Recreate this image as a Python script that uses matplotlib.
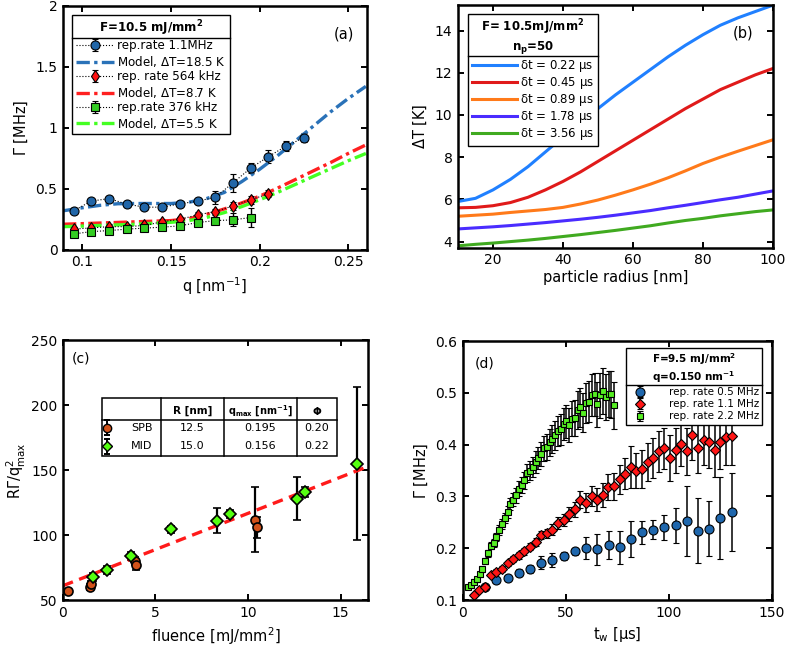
import numpy as np
import matplotlib
matplotlib.use('Agg')
import matplotlib.pyplot as plt
from matplotlib.lines import Line2D
from matplotlib.patches import Rectangle
from matplotlib.ticker import FuncFormatter

# ---------------- panel (a) data ----------------
q_blue = [0.095, 0.105, 0.115, 0.125, 0.135, 0.145, 0.155, 0.165, 0.175, 0.185, 0.195, 0.205, 0.215, 0.225]
gam_blue = [0.32, 0.40, 0.42, 0.375, 0.35, 0.35, 0.377, 0.40, 0.43, 0.55, 0.67, 0.765, 0.85, 0.92]
err_blue = [0.02, 0.02, 0.02, 0.02, 0.02, 0.02, 0.02, 0.02, 0.05, 0.075, 0.04, 0.05, 0.04, 0.04]
q_red = [0.095, 0.105, 0.115, 0.125, 0.135, 0.145, 0.155, 0.165, 0.175, 0.185, 0.195, 0.205]
gam_red = [0.17, 0.18, 0.19, 0.19, 0.20, 0.23, 0.25, 0.287, 0.314, 0.36, 0.41, 0.46]
err_red = [0.02, 0.02, 0.02, 0.02, 0.02, 0.02, 0.02, 0.02, 0.025, 0.03, 0.03, 0.03]
q_green = [0.095, 0.105, 0.115, 0.125, 0.135, 0.145, 0.155, 0.165, 0.175, 0.185, 0.195]
gam_green = [0.13, 0.15, 0.158, 0.17, 0.178, 0.186, 0.197, 0.224, 0.24, 0.246, 0.265]
err_green = [0.025, 0.02, 0.02, 0.02, 0.02, 0.02, 0.02, 0.02, 0.02, 0.053, 0.078]
q_model = [0.089, 0.10, 0.11, 0.12, 0.13, 0.14, 0.15, 0.16, 0.17, 0.18, 0.19, 0.20, 0.21, 0.22, 0.23, 0.24, 0.25, 0.26]
model_blue = [0.32, 0.345, 0.365, 0.378, 0.38, 0.38, 0.38, 0.39, 0.42, 0.47, 0.56, 0.66, 0.77, 0.89, 1.01, 1.13, 1.24, 1.34]
model_red = [0.21, 0.215, 0.22, 0.225, 0.23, 0.235, 0.24, 0.255, 0.29, 0.335, 0.385, 0.44, 0.505, 0.575, 0.645, 0.715, 0.79, 0.86]
model_green = [0.19, 0.195, 0.20, 0.205, 0.21, 0.218, 0.226, 0.24, 0.265, 0.305, 0.355, 0.41, 0.47, 0.535, 0.60, 0.665, 0.73, 0.79]
labels_a = ['rep.rate 1.1MHz', r'Model, $\Delta$T=18.5 K', 'rep. rate 564 kHz',
            r'Model, $\Delta$T=8.7 K', 'rep.rate 376 kHz', r'Model, $\Delta$T=5.5 K']

# ---------------- panel (b) data ----------------
radius = [10, 15, 20, 25, 30, 35, 40, 45, 50, 55, 60, 65, 70, 75, 80, 85, 90, 95, 100]
dT_022 = [5.9, 6.05, 6.45, 6.95, 7.55, 8.25, 8.95, 9.65, 10.3, 10.95, 11.55, 12.15, 12.75, 13.3, 13.8, 14.25, 14.6, 14.9, 15.2]
dT_045 = [5.6, 5.62, 5.7, 5.85, 6.1, 6.45, 6.85, 7.3, 7.8, 8.3, 8.8, 9.3, 9.8, 10.3, 10.75, 11.2, 11.55, 11.9, 12.2]
dT_089 = [5.2, 5.25, 5.3, 5.38, 5.45, 5.52, 5.62, 5.78, 5.97, 6.2, 6.45, 6.72, 7.02, 7.35, 7.7, 8.0, 8.28, 8.55, 8.82]
dT_178 = [4.6, 4.65, 4.7, 4.76, 4.83, 4.9, 4.98, 5.06, 5.15, 5.25, 5.36, 5.47, 5.6, 5.72, 5.85, 5.98, 6.1, 6.25, 6.4]
dT_356 = [3.8, 3.87, 3.93, 4.0, 4.07, 4.15, 4.24, 4.33, 4.43, 4.53, 4.64, 4.75, 4.88, 5.0, 5.1, 5.22, 5.32, 5.42, 5.5]
dt_labels = ['0.22', '0.45', '0.89', '1.78', '3.56']

# ---------------- panel (c) data ----------------
fl_spb = [0.25, 1.45, 1.5, 3.9, 3.95, 10.35, 10.5]
rg_spb = [57, 60, 62, 80, 77, 112, 106]
er_spb = [1.5, 2, 3, 3, 4, 25, 8]
fl_mid = [1.6, 2.4, 3.66, 5.84, 8.3, 9.05, 12.65, 13.1, 15.9]
rg_mid = [67.5, 73, 84, 104.5, 111, 116.5, 128, 133, 155]
er_mid = [3, 3, 3, 2.5, 9.5, 3, 16.5, 4, 59]
fit_x = [0, 16.5]
fit_y = [61, 153]
tab_names = ['SPB', 'MID']
tab_R = ['12.5', '15.0']
tab_q = ['0.195', '0.156']
tab_phi = ['0.20', '0.22']

# ---------------- panel (d) data ----------------
t_05 = [10.9, 16.3, 21.7, 27.2, 32.6, 38.0, 43.5, 48.9, 54.4, 59.8, 65.2, 70.7, 76.1, 81.5,
        87.0, 92.4, 97.8, 103.3, 108.7, 114.1, 119.6, 125.0, 130.4]
g_05 = [0.125, 0.138, 0.143, 0.153, 0.160, 0.172, 0.177, 0.185, 0.194, 0.201, 0.198, 0.207, 0.202, 0.218,
        0.231, 0.236, 0.240, 0.244, 0.253, 0.234, 0.238, 0.258, 0.270]
e_05 = [0.004, 0.005, 0.006, 0.007, 0.008, 0.012, 0.013, 0.008, 0.007, 0.021, 0.03, 0.027, 0.032, 0.035,
        0.022, 0.019, 0.025, 0.033, 0.068, 0.063, 0.053, 0.079, 0.075]
t_11 = [5.4, 8.1, 10.8, 13.6, 16.3, 19.0, 21.7, 24.5, 27.2, 29.9, 32.6, 35.3, 38.0, 40.8, 43.5, 46.2,
        48.9, 51.6, 54.3, 57.1, 59.8, 62.5, 65.2, 67.9, 70.6, 73.4, 76.1, 78.8, 81.5, 84.2, 86.9, 89.6,
        92.4, 95.1, 97.8, 100.5, 103.2, 105.9, 108.6, 111.4, 114.1, 116.8, 119.5, 122.2, 124.9, 127.6, 130.4]
g_11 = [0.109, 0.119, 0.125, 0.148, 0.155, 0.160, 0.171, 0.179, 0.186, 0.194, 0.203, 0.212, 0.225, 0.229,
        0.236, 0.249, 0.255, 0.266, 0.275, 0.294, 0.288, 0.301, 0.294, 0.303, 0.318, 0.320, 0.333, 0.344,
        0.357, 0.350, 0.353, 0.366, 0.374, 0.387, 0.393, 0.374, 0.389, 0.402, 0.387, 0.418, 0.394, 0.409,
        0.405, 0.389, 0.405, 0.414, 0.416]
e_11 = [0.003, 0.003, 0.004, 0.004, 0.004, 0.005, 0.005, 0.006, 0.006, 0.007, 0.007, 0.008, 0.008, 0.009,
        0.010, 0.011, 0.012, 0.013, 0.015, 0.017, 0.018, 0.020, 0.022, 0.023, 0.025, 0.026, 0.028, 0.030,
        0.041, 0.034, 0.036, 0.037, 0.038, 0.040, 0.040, 0.045, 0.043, 0.044, 0.046, 0.047, 0.048, 0.049,
        0.050, 0.052, 0.053, 0.054, 0.055]
t_22 = [2.7, 4.1, 5.4, 6.8, 8.2, 9.5, 10.9, 12.2, 13.6, 15.0, 16.3, 17.7, 19.0, 20.4, 21.8, 23.1, 24.5,
        25.8, 27.2, 28.6, 29.9, 31.3, 32.6, 34.0, 35.4, 36.7, 38.1, 39.4, 40.8, 42.2, 43.5, 44.9, 46.2,
        47.6, 49.0, 50.3, 51.7, 53.0, 54.4, 55.8, 57.1, 58.5, 59.8, 61.2, 62.6, 63.9, 65.3, 66.6, 68.0,
        69.4, 70.7, 72.1, 73.4]
g_22 = [0.125, 0.128, 0.135, 0.140, 0.150, 0.160, 0.175, 0.190, 0.205, 0.210, 0.222, 0.235, 0.247, 0.258,
        0.270, 0.285, 0.294, 0.302, 0.315, 0.322, 0.331, 0.345, 0.350, 0.357, 0.366, 0.374, 0.382, 0.393,
        0.396, 0.405, 0.410, 0.418, 0.427, 0.430, 0.440, 0.445, 0.438, 0.450, 0.452, 0.467, 0.472, 0.462,
        0.480, 0.483, 0.496, 0.497, 0.478, 0.495, 0.503, 0.492, 0.498, 0.497, 0.476]
e_22 = [0.004, 0.004, 0.005, 0.005, 0.005, 0.006, 0.006, 0.007, 0.007, 0.008, 0.008, 0.009, 0.009, 0.010,
        0.011, 0.012, 0.013, 0.014, 0.015, 0.016, 0.017, 0.018, 0.019, 0.020, 0.021, 0.022, 0.023, 0.024,
        0.025, 0.026, 0.027, 0.028, 0.029, 0.030, 0.031, 0.032, 0.033, 0.034, 0.035, 0.036, 0.037, 0.038,
        0.039, 0.040, 0.041, 0.042, 0.043, 0.043, 0.044, 0.044, 0.045, 0.045, 0.045]
labels_d = ['rep. rate 0.5 MHz', 'rep. rate 1.1 MHz', 'rep. rate 2.2 MHz']

plt.rcParams['mathtext.default'] = 'regular'
gfmt = FuncFormatter(lambda v, p: '%g' % v)

fig = plt.figure(figsize=(7.87, 6.49), dpi=100)


def style(ax):
    for s in ax.spines.values():
        s.set_linewidth(1.8)
    ax.tick_params(direction='in', top=True, right=True, length=4, width=1.4, labelsize=10, pad=4)


def header_line(leg):
    # horizontal rule between legend title and entries, like a matlab legend header
    fig.canvas.draw()
    r = fig.canvas.get_renderer()
    fb = leg.get_frame().get_window_extent(r)
    tb = leg.get_title().get_window_extent(r)
    top_entry = max(t.get_window_extent(r).y1 for t in leg.get_texts())
    ymid = 0.5 * (tb.y0 + top_entry) + 1
    inv = fig.transFigure.inverted()
    x0, y0 = inv.transform((fb.x0, ymid))
    x1, _ = inv.transform((fb.x1, ymid))
    fig.add_artist(Line2D([x0, x1], [y0, y0], color='k', lw=1.0))


# ---------------- (a) ----------------
axa = fig.add_axes([0.080, 0.615, 0.386, 0.376])
eb_kw = dict(ls=':', color='k', lw=0.8, ecolor='k', elinewidth=1.0, capsize=2.5, capthick=1.0, mec='k', mew=0.8)
h1 = axa.errorbar(q_blue, gam_blue, yerr=err_blue, marker='o', ms=6.5, mfc='#2166a8', **eb_kw)
h3 = axa.errorbar(q_red, gam_red, yerr=err_red, marker='d', ms=6.5, mfc='#ff1010', **eb_kw)
h5 = axa.errorbar(q_green, gam_green, yerr=err_green, marker='s', ms=5.5, mfc='#33cc22', **eb_kw)
ddash = (4, 1.3, 1, 1.3)
h2, = axa.plot(q_model, model_blue, color='#2a72b8', lw=2.4, dashes=ddash)
h4, = axa.plot(q_model, model_red, color='#ff2020', lw=2.4, dashes=ddash)
h6, = axa.plot(q_model, model_green, color='#44ff22', lw=2.4, dashes=ddash)
axa.set_xlim(0.089, 0.2605)
axa.set_ylim(0, 2)
axa.set_xticks([0.1, 0.15, 0.2, 0.25])
axa.set_yticks([0, 0.5, 1, 1.5, 2])
axa.xaxis.set_major_formatter(gfmt)
axa.yaxis.set_major_formatter(gfmt)
axa.set_xlabel('q [nm$^{-1}$]', fontsize=10.5)
axa.set_ylabel(r'$\Gamma$ [MHz]', fontsize=10.5)
axa.text(0.925, 0.885, '(a)', transform=axa.transAxes, ha='center', va='center', fontsize=10.5)
style(axa)
lega = axa.legend([h1, h2, h3, h4, h5, h6], labels_a, loc='upper left', bbox_to_anchor=(0.03, 0.963),
                  borderaxespad=0, fontsize=8.6, title=r'F=10.5 mJ/mm$^\mathbf{2}$',
                  title_fontproperties={'weight': 'bold', 'size': 8.6}, fancybox=False, edgecolor='k',
                  framealpha=1, handlelength=3.2, handletextpad=0.3, labelspacing=0.12, borderpad=0.3)
lega.get_frame().set_linewidth(1.0)

# ---------------- (b) ----------------
axb = fig.add_axes([0.582, 0.618, 0.400, 0.374])
cols_b = ['#2080ff', '#e01a1a', '#ff7a1a', '#4a2cff', '#40aa20']
hb = []
for ys, c, lab in zip([dT_022, dT_045, dT_089, dT_178, dT_356], cols_b, dt_labels):
    l, = axb.plot(radius, ys, color=c, lw=2.2, label=r'$\delta$t = ' + lab + r' $\mu$s')
    hb.append(l)
axb.set_xlim(10, 100)
axb.set_ylim(3.7, 15.2)
axb.set_xticks([20, 40, 60, 80, 100])
axb.set_yticks([4, 6, 8, 10, 12, 14])
axb.set_xlabel('particle radius [nm]', fontsize=10.5, labelpad=2)
axb.set_ylabel(r'$\Delta$T [K]', fontsize=10.5)
axb.text(0.905, 0.885, '(b)', transform=axb.transAxes, ha='center', va='center', fontsize=10.5)
style(axb)
legb = axb.legend(handles=hb, loc='upper left', bbox_to_anchor=(0.032, 0.963), borderaxespad=0,
                  fontsize=8.5, title='F= 10.5mJ/mm$^\\mathbf{2}$\nn$_\\mathbf{p}$=50',
                  title_fontproperties={'weight': 'bold', 'size': 8.5}, fancybox=False, edgecolor='k',
                  framealpha=1, handlelength=3.8, handletextpad=0.3, labelspacing=0.1, borderpad=0.3)
legb.get_title().set_multialignment('center')
legb.get_frame().set_linewidth(1.0)

# ---------------- (c) ----------------
axc = fig.add_axes([0.080, 0.0755, 0.388, 0.400])
ceb = dict(ls='none', ecolor='k', elinewidth=1.6, capsize=3, capthick=1.6, mec='k', mew=1.2)
axc.errorbar(fl_spb, rg_spb, yerr=er_spb, marker='o', ms=6.5, mfc='#d2521a', **ceb)
axc.errorbar(fl_mid, rg_mid, yerr=er_mid, marker='D', ms=6, mfc='#55ff11', **ceb)
axc.plot(fit_x, fit_y, color='#ff1a1a', lw=2.4, dashes=(3.2, 2.0))
axc.set_xlim(0, 16.5)
axc.set_ylim(50, 250)
axc.set_xticks([0, 5, 10, 15])
axc.set_yticks([50, 100, 150, 200, 250])
axc.set_xlabel('fluence [mJ/mm$^2$]', fontsize=10.5)
axc.set_ylabel(r'R$\Gamma$/q$^2_{max}$', fontsize=10.5, labelpad=2)
axc.text(0.06, 0.93, '(c)', transform=axc.transAxes, ha='center', va='center', fontsize=10)
style(axc)

# inset table
tx0, tx1 = 0.128, 0.898
tcol = [0.321, 0.528, 0.767]
ty0, thead, ty1 = 0.554, 0.692, 0.777
tt = axc.transAxes
axc.add_patch(Rectangle((tx0, ty0), tx1 - tx0, ty1 - ty0, transform=tt, fc='white', ec='k', lw=1.1, zorder=5))
axc.plot([tx0, tx1], [thead, thead], transform=tt, color='k', lw=1.1, zorder=6)
for cx in tcol:
    axc.plot([cx, cx], [ty0, ty1], transform=tt, color='k', lw=1.1, zorder=6)
hy = 0.728
axc.text(0.424, hy, 'R [nm]', transform=tt, ha='center', va='center', fontsize=7.5, weight='bold', zorder=7)
axc.text(0.646, hy, r'q$_\mathbf{max}$ [nm$^\mathbf{-1}$]', transform=tt, ha='center', va='center',
         fontsize=7, weight='bold', zorder=7)
axc.text(0.832, hy, r'$\mathbf{\Phi}$', transform=tt, ha='center', va='center', fontsize=7.5, zorder=7)
rows_y = [0.664, 0.592]
mk = [('o', '#d2521a', 6), ('D', '#55ff11', 5)]
for i in range(2):
    ry = rows_y[i]
    m, c, s = mk[i]
    axc.plot([0.143, 0.143], [ry - 0.03, ry + 0.03], transform=tt, color='k', lw=1.4, zorder=7)
    axc.plot([0.143, 0.143], [ry - 0.03, ry + 0.03], transform=tt, ls='none', marker='_', ms=5,
             mew=1.4, color='k', zorder=7)
    axc.plot([0.143], [ry], transform=tt, marker=m, ms=s, mfc=c, mec='k', mew=1.0, zorder=8)
    axc.text(0.258, ry, tab_names[i], transform=tt, ha='center', va='center', fontsize=8, zorder=7)
    axc.text(0.424, ry, tab_R[i], transform=tt, ha='center', va='center', fontsize=8, zorder=7)
    axc.text(0.646, ry, tab_q[i], transform=tt, ha='center', va='center', fontsize=8, zorder=7)
    axc.text(0.832, ry, tab_phi[i], transform=tt, ha='center', va='center', fontsize=8, zorder=7)

# ---------------- (d) ----------------
axd = fig.add_axes([0.588, 0.0755, 0.393, 0.399])
deb = dict(ls='none', ecolor='k', elinewidth=1.1, capsize=2.5, capthick=1.1, mec='k', mew=0.8)
d1 = axd.errorbar(t_05, g_05, yerr=e_05, marker='o', ms=6.5, mfc='#1f67ad', **deb)
d2 = axd.errorbar(t_11, g_11, yerr=e_11, marker='D', ms=5.5, mfc='#ff1515', **deb)
d3 = axd.errorbar(t_22, g_22, yerr=e_22, marker='s', ms=4.5, mfc='#55ee22', **deb)
axd.set_xlim(0, 150)
axd.set_ylim(0.1, 0.6)
axd.set_xticks([0, 50, 100, 150])
axd.set_yticks([0.1, 0.2, 0.3, 0.4, 0.5, 0.6])
axd.yaxis.set_major_formatter(gfmt)
axd.set_xlabel(r't$_w$ [$\mu$s]', fontsize=10.5)
axd.set_ylabel(r'$\Gamma$ [MHz]', fontsize=10.5)
axd.text(0.07, 0.915, '(d)', transform=axd.transAxes, ha='center', va='center', fontsize=10)
style(axd)
legd = axd.legend([d1, d2, d3], labels_d, loc='upper right', bbox_to_anchor=(0.968, 0.973),
                  borderaxespad=0, fontsize=7.5,
                  title='F=9.5 mJ/mm$^\\mathbf{2}$\nq=0.150 nm$^\\mathbf{-1}$',
                  title_fontproperties={'weight': 'bold', 'size': 7.5}, fancybox=False, edgecolor='k',
                  framealpha=1, handlelength=2.0, handletextpad=1.8, labelspacing=0.2, borderpad=0.3)
legd.get_title().set_multialignment('center')
legd.get_frame().set_linewidth(1.0)

header_line(lega)
header_line(legb)
header_line(legd)

fig.savefig('out.png', dpi=100)
